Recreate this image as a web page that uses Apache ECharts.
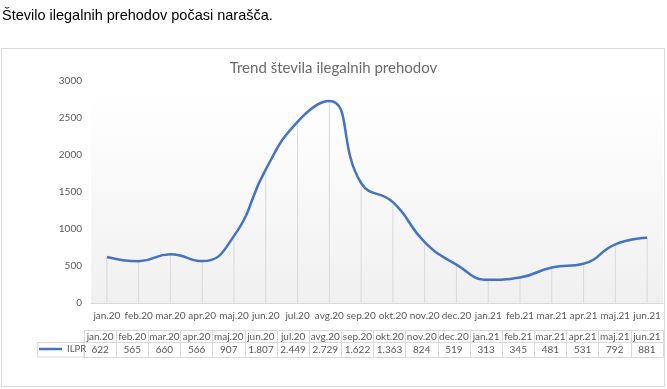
<!DOCTYPE html>
<html><head><meta charset="utf-8">
<script src="https://cdn.jsdelivr.net/npm/echarts@6/dist/echarts.min.js"></script>
<style>html,body{margin:0;padding:0;background:#fff}#c{width:667px;height:389px}</style>
</head><body><div id="c"></div>
<script>
const categories = ['jan.20','feb.20','mar.20','apr.20','maj.20','jun.20','jul.20','avg.20','sep.20','okt.20','nov.20','dec.20','jan.21','feb.21','mar.21','apr.21','maj.21','jun.21'];
const ilpr = [622,565,660,566,907,1807,2449,2729,1622,1363,824,519,313,345,481,531,792,881];
const seriesName = 'ILPR';
const pageHeading = 'Število ilegalnih prehodov počasi narašča.';
const chartTitle = 'Trend števila ilegalnih prehodov';

function fmt(v){ return v >= 1000 ? Math.floor(v/1000) + '.' + String(v % 1000).padStart(3,'0') : String(v); }
const tableValues = ilpr.map(fmt);

const GRID = '#d9d9d9', TXT = '#595959', FONT = 'Lato', BLUE = '#4472C4';
const chart = echarts.init(document.getElementById('c'), null, {renderer:'canvas'});
chart.setOption({
  animation: false,
  textStyle: {fontFamily: FONT},
  title: {text: chartTitle, left: 'center', top: 56, textStyle: {fontFamily: FONT, fontSize: 15, fontWeight: 'normal', color: '#6b6b6b'}},
  graphic: [
    {type:'rect', z:-10, shape:{x:1.5, y:48.5, width:663, height:338}, style:{fill:'#fff', stroke:GRID, lineWidth:1}},
    {type:'text', x:2, y:16, style:{text: pageHeading, x:0, y:0, font:'14.5px "Liberation Sans", Arial, sans-serif', fill:'#000', verticalAlign:'middle'}},
    {type:'rect', shape:{x:37.5, y:342.5, width:46.5, height:14.5}, style:{fill:'none', stroke:GRID, lineWidth:1}}
  ],
  legend: {data:[{name: seriesName, icon:'rect'}], left: 39, top: 344, padding: 0, itemWidth: 23, itemHeight: 2.5,
    textStyle:{fontFamily: FONT, fontSize: 9.5, color: TXT}},
  grid: [
    {left: 91, right: 4, top: 81, height: 222, show: true, borderWidth: 0,
     backgroundColor: {type:'linear', x:0, y:0, x2:0, y2:1, colorStops:[{offset:0, color:'#ffffff'},{offset:0.2, color:'#fdfdfd'},{offset:1, color:'#f0f0f0'}]}},
    {left: 84, right: 4, top: 330, height: 0}
  ],
  xAxis: [
    {type:'category', gridIndex:0, data: categories, boundaryGap: true,
     axisLine:{lineStyle:{color:GRID}}, axisTick:{show:false},
     axisLabel:{interval:0, color:TXT, fontSize:10, margin:8}},
    {type:'category', gridIndex:1, position:'bottom', offset:0, data: categories,
     axisLine:{lineStyle:{color:GRID}}, axisTick:{show:true, interval:0, alignWithLabel:false, length:12, lineStyle:{color:GRID}},
     axisLabel:{interval:0, color:TXT, fontSize:10, margin:2}},
    {type:'category', gridIndex:1, position:'bottom', offset:12, data: tableValues,
     axisLine:{lineStyle:{color:GRID}}, axisTick:{show:true, interval:0, alignWithLabel:false, length:15, lineStyle:{color:GRID}},
     axisLabel:{interval:0, color:TXT, fontSize:10, margin:3}},
    {type:'category', gridIndex:1, position:'bottom', offset:27, data: categories,
     axisLine:{lineStyle:{color:GRID}}, axisTick:{show:false}, axisLabel:{show:false}}
  ],
  yAxis: [
    {type:'value', gridIndex:0, min:0, max:3000, interval:500,
     axisLine:{show:false}, axisTick:{show:false}, splitLine:{show:false},
     axisLabel:{color:TXT, fontSize:10, margin:9, formatter: v => String(v)}},
    {type:'value', gridIndex:1, show:false}
  ],
  series: [
    {name:'drop', type:'bar', xAxisIndex:0, yAxisIndex:0, data: ilpr, barWidth:1, itemStyle:{color:GRID}, z:1, silent:true},
    {name:seriesName, type:'line', xAxisIndex:0, yAxisIndex:0, data: ilpr, smooth:true, symbol:'none',
     lineStyle:{color:BLUE, width:2.5}, itemStyle:{color:BLUE}, z:3}
  ]
});
</script></body></html>
